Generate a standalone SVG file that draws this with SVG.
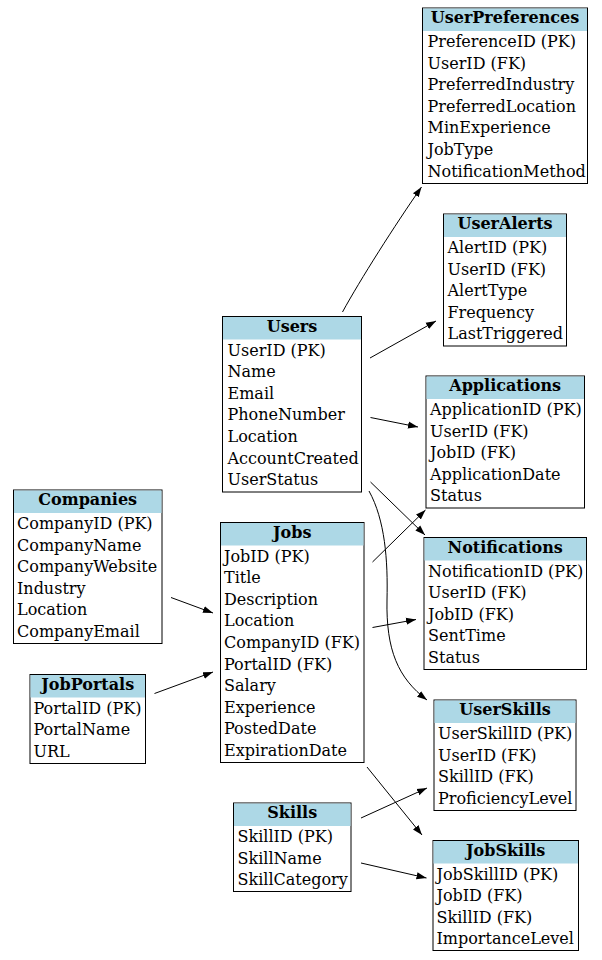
<svg xmlns="http://www.w3.org/2000/svg" width="602" height="960" viewBox="0 0 602 960">
<style>
.box{fill:#fff;stroke:#000;stroke-width:1}
.hdr{fill:#add8e6}
.t{font-family:"DejaVu Serif",serif;font-size:16px;fill:#000}
.h{font-family:"DejaVu Serif",serif;font-size:16px;font-weight:bold;fill:#000;text-anchor:middle}
.e{fill:none;stroke:#000;stroke-width:1}
</style>
<defs>
<marker id="arr" markerUnits="userSpaceOnUse" markerWidth="10" markerHeight="8" refX="10" refY="3.5" orient="auto" viewBox="0 0 10 7">
<path d="M0,0 L10,3.5 L0,7 z" fill="#000"/>
</marker>
</defs>
<rect width="602" height="960" fill="#fff"/>

<g id="edges">
<path class="e" marker-end="url(#arr)" d="M342.5,312 C360,280 395,225 421.5,187"/>
<path class="e" marker-end="url(#arr)" d="M370,358 L436,321"/>
<path class="e" marker-end="url(#arr)" d="M370.5,417.5 L418,427"/>
<path class="e" marker-end="url(#arr)" d="M370.5,482 L425,535"/>
<path class="e" marker-end="url(#arr)" d="M369,491 C385,520 388,560 387,600 C386,650 398,678 427,700"/>
<path class="e" marker-end="url(#arr)" d="M372.5,562 L425.5,510"/>
<path class="e" marker-end="url(#arr)" d="M372.5,627.5 L416,619.5"/>
<path class="e" marker-end="url(#arr)" d="M367,767 L422,835"/>
<path class="e" marker-end="url(#arr)" d="M361,818 L427,788"/>
<path class="e" marker-end="url(#arr)" d="M361,863 L426.5,878"/>
<path class="e" marker-end="url(#arr)" d="M171,597.5 L213,613"/>
<path class="e" marker-end="url(#arr)" d="M154.5,693.5 L213,672"/>
</g>

<g id="UserPreferences">
<rect class="box" x="422.5" y="8" width="165" height="175.5"/>
<rect class="hdr" x="423" y="8.5" width="164" height="22.5"/>
<text class="h" x="505" y="23">UserPreferences</text>
<text class="t" x="427.5" y="47">PreferenceID (PK)</text>
<text class="t" x="427.5" y="68.6">UserID (FK)</text>
<text class="t" x="427.5" y="90.2">PreferredIndustry</text>
<text class="t" x="427.5" y="111.8">PreferredLocation</text>
<text class="t" x="427.5" y="133.4">MinExperience</text>
<text class="t" x="427.5" y="155">JobType</text>
<text class="t" x="427.5" y="176.6">NotificationMethod</text>
</g>

<g id="UserAlerts">
<rect class="box" x="443.5" y="214" width="123" height="132"/>
<rect class="hdr" x="444" y="214.5" width="122" height="22.5"/>
<text class="h" x="505" y="229">UserAlerts</text>
<text class="t" x="447.5" y="253">AlertID (PK)</text>
<text class="t" x="447.5" y="274.6">UserID (FK)</text>
<text class="t" x="447.5" y="296.2">AlertType</text>
<text class="t" x="447.5" y="317.8">Frequency</text>
<text class="t" x="447.5" y="339.4">LastTriggered</text>
</g>

<g id="Users">
<rect class="box" x="222.5" y="316.5" width="139" height="175.5"/>
<rect class="hdr" x="223" y="317" width="138" height="22.5"/>
<text class="h" x="292" y="331.5">Users</text>
<text class="t" x="227.5" y="355.5">UserID (PK)</text>
<text class="t" x="227.5" y="377.1">Name</text>
<text class="t" x="227.5" y="398.7">Email</text>
<text class="t" x="227.5" y="420.3">PhoneNumber</text>
<text class="t" x="227.5" y="441.9">Location</text>
<text class="t" x="227.5" y="463.5">AccountCreated</text>
<text class="t" x="227.5" y="485.1">UserStatus</text>
</g>

<g id="Applications">
<rect class="box" x="426" y="376" width="158.5" height="132"/>
<rect class="hdr" x="426.5" y="376.5" width="157.5" height="22.5"/>
<text class="h" x="505.2" y="391">Applications</text>
<text class="t" x="430" y="415">ApplicationID (PK)</text>
<text class="t" x="430" y="436.6">UserID (FK)</text>
<text class="t" x="430" y="458.2">JobID (FK)</text>
<text class="t" x="430" y="479.8">ApplicationDate</text>
<text class="t" x="430" y="501.4">Status</text>
</g>

<g id="Companies">
<rect class="box" x="13.5" y="490" width="148.5" height="153.5"/>
<rect class="hdr" x="14" y="490.5" width="147.5" height="22.5"/>
<text class="h" x="87.7" y="505">Companies</text>
<text class="t" x="17" y="529">CompanyID (PK)</text>
<text class="t" x="17" y="550.6">CompanyName</text>
<text class="t" x="17" y="572.2">CompanyWebsite</text>
<text class="t" x="17" y="593.8">Industry</text>
<text class="t" x="17" y="615.4">Location</text>
<text class="t" x="17" y="637">CompanyEmail</text>
</g>

<g id="Notifications">
<rect class="box" x="424" y="537.5" width="162.5" height="132"/>
<rect class="hdr" x="424.5" y="538" width="161.5" height="22.5"/>
<text class="h" x="505.2" y="552.5">Notifications</text>
<text class="t" x="428" y="576.5">NotificationID (PK)</text>
<text class="t" x="428" y="598.1">UserID (FK)</text>
<text class="t" x="428" y="619.7">JobID (FK)</text>
<text class="t" x="428" y="641.3">SentTime</text>
<text class="t" x="428" y="662.9">Status</text>
</g>

<g id="Jobs">
<rect class="box" x="220.5" y="522.5" width="143.5" height="240"/>
<rect class="hdr" x="221" y="523" width="142.5" height="22.5"/>
<text class="h" x="292.2" y="537.5">Jobs</text>
<text class="t" x="224" y="561.5">JobID (PK)</text>
<text class="t" x="224" y="583.1">Title</text>
<text class="t" x="224" y="604.7">Description</text>
<text class="t" x="224" y="626.3">Location</text>
<text class="t" x="224" y="647.9">CompanyID (FK)</text>
<text class="t" x="224" y="669.5">PortalID (FK)</text>
<text class="t" x="224" y="691.1">Salary</text>
<text class="t" x="224" y="712.7">Experience</text>
<text class="t" x="224" y="734.3">PostedDate</text>
<text class="t" x="224" y="755.9">ExpirationDate</text>
</g>

<g id="JobPortals">
<rect class="box" x="30" y="674.5" width="115.5" height="89"/>
<rect class="hdr" x="30.5" y="675" width="114.5" height="22.5"/>
<text class="h" x="87.7" y="689.5">JobPortals</text>
<text class="t" x="33.5" y="713.5">PortalID (PK)</text>
<text class="t" x="33.5" y="735.1">PortalName</text>
<text class="t" x="33.5" y="756.7">URL</text>
</g>

<g id="UserSkills">
<rect class="box" x="434" y="700" width="142" height="110.5"/>
<rect class="hdr" x="434.5" y="700.5" width="141" height="22.5"/>
<text class="h" x="505" y="715">UserSkills</text>
<text class="t" x="438" y="739">UserSkillID (PK)</text>
<text class="t" x="438" y="760.6">UserID (FK)</text>
<text class="t" x="438" y="782.2">SkillID (FK)</text>
<text class="t" x="438" y="803.8">ProficiencyLevel</text>
</g>

<g id="Skills">
<rect class="box" x="233.5" y="803" width="117.5" height="88.5"/>
<rect class="hdr" x="234" y="803.5" width="116.5" height="22.5"/>
<text class="h" x="292.2" y="818">Skills</text>
<text class="t" x="237.5" y="842">SkillID (PK)</text>
<text class="t" x="237.5" y="863.6">SkillName</text>
<text class="t" x="237.5" y="885.2">SkillCategory</text>
</g>

<g id="JobSkills">
<rect class="box" x="433" y="840.5" width="145.5" height="110"/>
<rect class="hdr" x="433.5" y="841" width="144.5" height="22.5"/>
<text class="h" x="505.7" y="855.5">JobSkills</text>
<text class="t" x="436.5" y="879.5">JobSkillID (PK)</text>
<text class="t" x="436.5" y="901.1">JobID (FK)</text>
<text class="t" x="436.5" y="922.7">SkillID (FK)</text>
<text class="t" x="436.5" y="944.3">ImportanceLevel</text>
</g>
</svg>
